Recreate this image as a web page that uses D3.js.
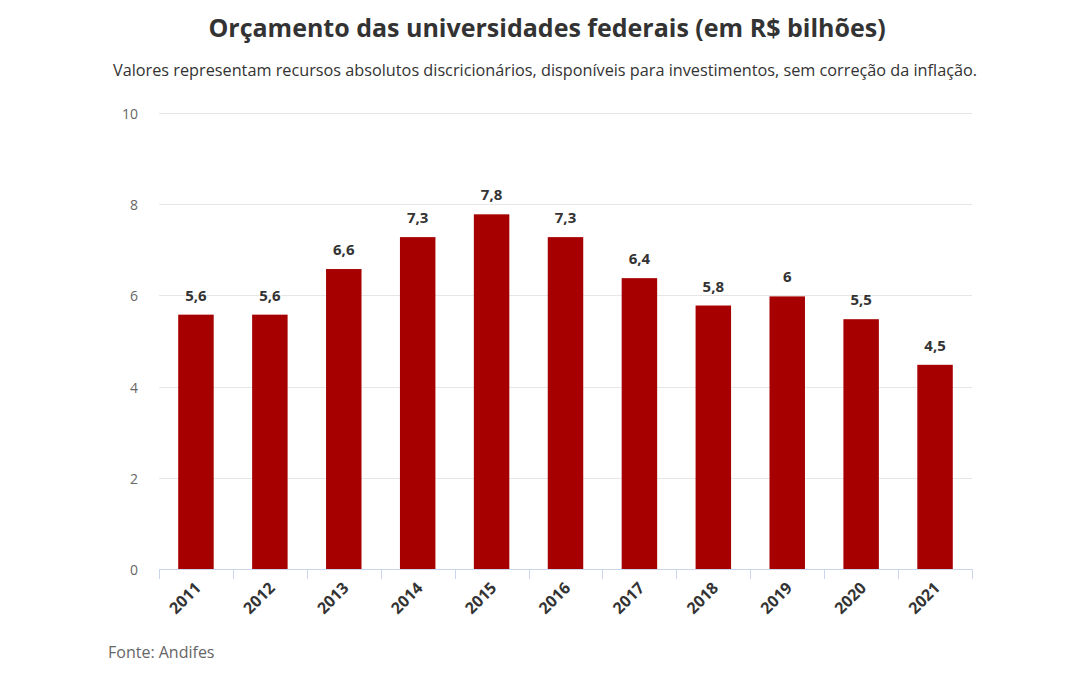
<!DOCTYPE html>
<html><head><meta charset="utf-8">
<script src="https://cdn.jsdelivr.net/npm/d3@7"></script>
<style>
body{margin:0;background:#fff;}
text{font-family:"Open Sans",sans-serif;}
</style></head>
<body>
<svg id="c" width="1080" height="681"></svg>
<script>
const years = ["2011","2012","2013","2014","2015","2016","2017","2018","2019","2020","2021"];
const values = [5.6,5.6,6.6,7.3,7.8,7.3,6.4,5.8,6,5.5,4.5];
const valueLabels = ["5,6","5,6","6,6","7,3","7,8","7,3","6,4","5,8","6","5,5","4,5"];
const yTicks = [0,2,4,6,8,10];

(function(){
const svg = d3.select("#c");
const pLeft = 159, pRight = 972, pTop = 114, pBottom = 570;
const x = d3.scaleBand().domain(years).range([pLeft,pRight]).paddingInner(0.52).paddingOuter(0.26);
const y = d3.scaleLinear().domain([0,10]).range([pBottom,pTop]);

svg.append("text").attr("x",547).attr("y",37).attr("text-anchor","middle")
  .attr("font-size",25).attr("font-weight",700).attr("fill","#333").text("Orçamento das universidades federais (em R$ bilhões)");
svg.append("text").attr("x",545).attr("y",76).attr("text-anchor","middle")
  .attr("font-size",16).attr("fill","#333")
  .attr("textLength",864).attr("lengthAdjust","spacingAndGlyphs")
  .text("Valores representam recursos absolutos discricionários, disponíveis para investimentos, sem correção da inflação.");

svg.append("g").selectAll("line").data(yTicks.filter(d=>d>0)).join("line")
  .attr("x1",pLeft).attr("x2",pRight).attr("y1",d=>Math.round(y(d))-0.5).attr("y2",d=>Math.round(y(d))-0.5)
  .attr("stroke","#e6e6e6").attr("stroke-width",1);

svg.append("g").selectAll("text").data(yTicks).join("text")
  .attr("x",138).attr("y",d=>y(d)+5).attr("text-anchor","end")
  .attr("font-size",14).attr("fill","#666").text(d=>d);

svg.append("g").selectAll("rect").data(years).join("rect")
  .attr("x",d=>x(d)).attr("width",x.bandwidth())
  .attr("y",(d,i)=>y(values[i])).attr("height",(d,i)=>y(0)-y(values[i]))
  .attr("fill","#a60000");

const band = (pRight-pLeft)/years.length;
svg.append("line").attr("x1",pLeft).attr("x2",pRight).attr("y1",pBottom-0.5).attr("y2",pBottom-0.5)
  .attr("stroke","#ccd6eb").attr("stroke-width",1);
svg.append("g").selectAll("line").data(d3.range(years.length+1)).join("line")
  .attr("x1",i=>Math.round(pLeft+i*band)+0.5).attr("x2",i=>Math.round(pLeft+i*band)+0.5)
  .attr("y1",pBottom-1).attr("y2",pBottom+9).attr("stroke","#ccd6eb");

svg.append("g").selectAll("text").data(years).join("text")
  .attr("transform",d=>`translate(${x(d)+x.bandwidth()/2+6},${pBottom+19}) rotate(-45)`)
  .attr("text-anchor","end").attr("font-size",16).attr("font-weight",700).attr("fill","#333").text(d=>d);

svg.append("g").selectAll("text").data(years).join("text")
  .attr("x",d=>x(d)+x.bandwidth()/2).attr("y",(d,i)=>y(values[i])-14)
  .attr("text-anchor","middle").attr("font-size",15).attr("font-weight",700)
  .attr("fill","#333").attr("stroke","#fff").attr("stroke-width",2).attr("paint-order","stroke")
  .text((d,i)=>valueLabels[i]);

svg.append("text").attr("x",108).attr("y",658).attr("font-size",16).attr("fill","#666").text("Fonte: Andifes");
})();
</script>
</body></html>
